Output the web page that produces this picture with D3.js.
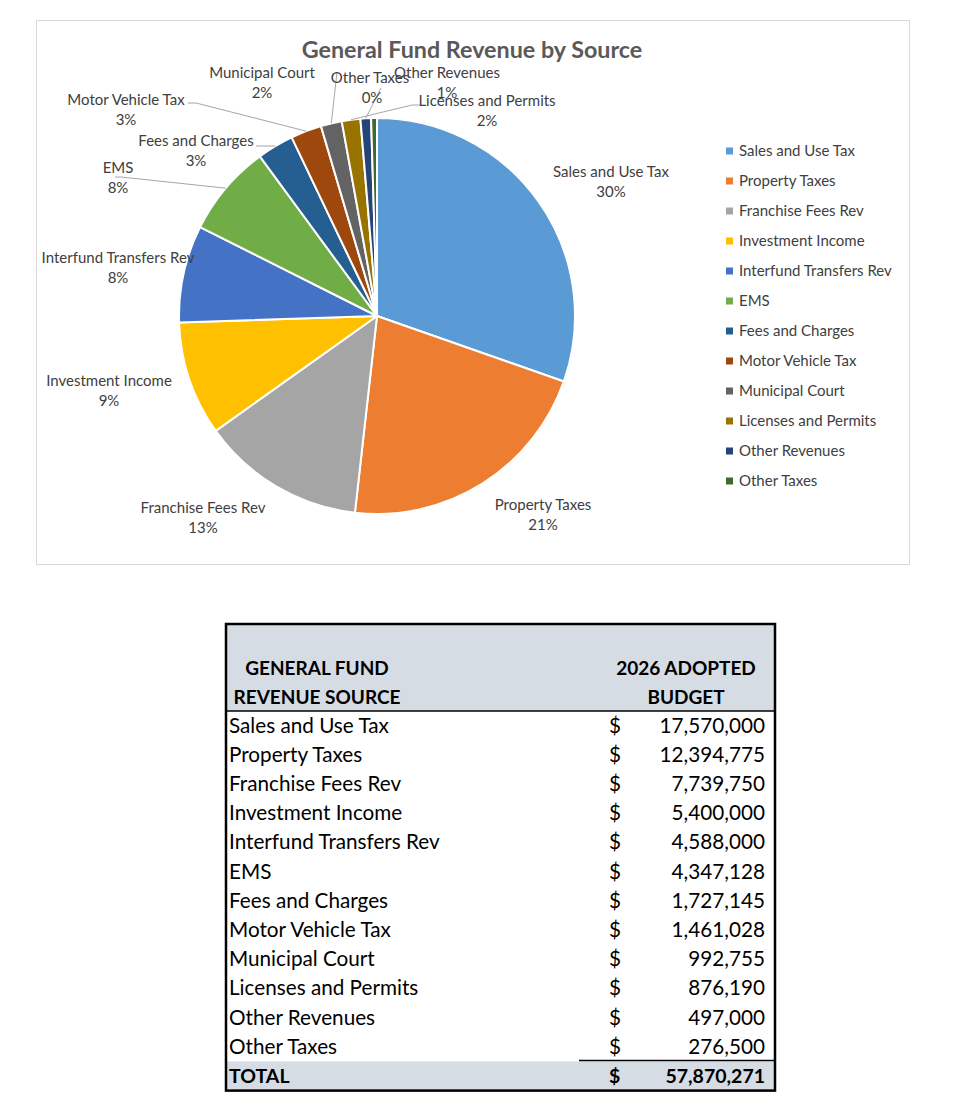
<!DOCTYPE html>
<html>
<head>
<meta charset="utf-8">
<script src="https://cdn.jsdelivr.net/npm/d3@7"></script>
<style>
  html, body { margin: 0; padding: 0; background: #ffffff; }
  svg { display: block; }
</style>
</head>
<body>
<svg id="chart" width="960" height="1116"></svg>
<script>
// ---------- DATA ----------
const categories = [
  "Sales and Use Tax", "Property Taxes", "Franchise Fees Rev", "Investment Income",
  "Interfund Transfers Rev", "EMS", "Fees and Charges", "Motor Vehicle Tax",
  "Municipal Court", "Licenses and Permits", "Other Revenues", "Other Taxes"
];
const budget2026 = [
  17570000, 12394775, 7739750, 5400000, 4588000, 4347128,
  1727145, 1461028, 992755, 876190, 497000, 276500
];
const totalLabel = "TOTAL";
const chartTitle = "General Fund Revenue by Source";
const tableHeaderLeft = ["GENERAL FUND", "REVENUE SOURCE"];
const tableHeaderRight = ["2026 ADOPTED", "BUDGET"];

// ---------- STYLE / LAYOUT ----------
const colors = ["#5B9BD5", "#ED7D31", "#A5A5A5", "#FFC000", "#4472C4", "#70AD47",
                "#255E91", "#9E480E", "#636363", "#997300", "#264478", "#43682B"];
// label anchor (centre of label block, first line y) per category
const labelLayout = [
  {x: 611, y: 172}, {x: 543, y: 505}, {x: 203, y: 508}, {x: 109, y: 381},
  {x: 118, y: 258}, {x: 118, y: 168}, {x: 196, y: 141}, {x: 126, y: 100},
  {x: 262, y: 73},  {x: 487, y: 101}, {x: 447, y: 73},  {x: 370, y: 78}
];
// leader line start points (null = none); elbow optional
const leaderLayout = [
  null, null, null, null, null,
  {sx: 115, sy: 177, ex: 121, ey: 177},
  {sx: 256, sy: 146, ex: 262, ey: 146},
  {sx: 188, sy: 103, ex: 196, ey: 103},
  {sx: 337, sy: 72, ex: 337, ey: 72},
  {sx: 420, sy: 105, ex: 412, ey: 105},
  {sx: 381, sy: 88, ex: 381, ey: 88},
  null
];

const FONT = "Lato, 'Open Sans', 'DejaVu Sans', sans-serif";
const svg = d3.select("#chart");

// chart frame
svg.append("rect").attr("x", 36.5).attr("y", 20.5).attr("width", 873).attr("height", 544)
  .attr("fill", "#fff").attr("stroke", "#d9d9d9").attr("stroke-width", 1);

// title
svg.append("text").attr("x", 472).attr("y", 58).attr("text-anchor", "middle")
  .attr("font-family", FONT).attr("font-weight", "bold").attr("font-size", 23.3)
  .attr("fill", "#595959").text(chartTitle);

// ---------- PIE ----------
const cx = 377, cy = 316, R = 198;
const total = d3.sum(budget2026);
const data = categories.map((c, i) => ({name: c, value: budget2026[i], i}));
const pie = d3.pie().value(d => d.value).sort(null);
const arcs = pie(data);
const arc = d3.arc().innerRadius(0).outerRadius(R);
const color = d3.scaleOrdinal().domain(categories).range(colors);

const g = svg.append("g").attr("transform", `translate(${cx},${cy})`);
g.selectAll("path").data(arcs).join("path")
  .attr("d", arc).attr("fill", d => color(d.data.name))
  .attr("stroke", "#fff").attr("stroke-width", 2).attr("stroke-linejoin", "round");

// leader lines
arcs.forEach((a, i) => {
  const L = leaderLayout[i];
  if (!L) return;
  const mid = (a.startAngle + a.endAngle) / 2;
  const px = cx + R * Math.sin(mid), py = cy - R * Math.cos(mid);
  svg.append("polyline")
    .attr("points", `${L.sx},${L.sy} ${L.ex},${L.ey} ${px},${py}`)
    .attr("fill", "none").attr("stroke", "#a6a6a6").attr("stroke-width", 1);
});

// data labels
const pct = d3.format(".0%");
arcs.forEach((a, i) => {
  const p = labelLayout[i];
  const t = svg.append("text").attr("text-anchor", "middle")
    .attr("font-family", FONT).attr("font-size", 15).attr("fill", "#404040");
  t.append("tspan").attr("x", p.x).attr("y", p.y + 5).text(a.data.name);
  t.append("tspan").attr("x", i === 11 ? p.x + 2 : p.x).attr("y", p.y + 25)
    .text(pct(a.data.value / total));
});

// legend
const lg = svg.append("g").attr("transform", "translate(726,151)");
categories.forEach((c, i) => {
  const row = lg.append("g").attr("transform", `translate(0,${i * 30})`);
  row.append("rect").attr("x", 0).attr("y", -3.5).attr("width", 7).attr("height", 7)
    .attr("fill", color(c));
  row.append("text").attr("x", 13).attr("y", 5).attr("font-family", FONT)
    .attr("font-size", 15).attr("fill", "#404040").text(c);
});

// ---------- TABLE ----------
const tx0 = 226, tx1 = 775, ty0 = 624, headerBottom = 711, rowH = 29.2;
const nRows = categories.length;
const tFont = 20.7;
const hFont = 19;
const tb = svg.append("g");

// header fill
tb.append("rect").attr("x", tx0).attr("y", ty0).attr("width", tx1 - tx0)
  .attr("height", headerBottom - ty0).attr("fill", "#d6dce4");
// total fill
const totalTop = headerBottom + rowH * nRows;
const tableBottom = totalTop + rowH;
tb.append("rect").attr("x", tx0).attr("y", totalTop).attr("width", tx1 - tx0)
  .attr("height", rowH).attr("fill", "#d6dce4");

// header text
tableHeaderLeft.forEach((s, k) => {
  tb.append("text").attr("x", 317).attr("y", 675 + k * 29)
    .attr("text-anchor", "middle").attr("font-family", FONT).attr("font-weight", "bold")
    .attr("font-size", hFont).attr("fill", "#000").text(s);
});
tableHeaderRight.forEach((s, k) => {
  tb.append("text").attr("x", 686).attr("y", 675 + k * 29)
    .attr("text-anchor", "middle").attr("font-family", FONT).attr("font-weight", "bold")
    .attr("font-size", hFont).attr("fill", "#000").text(s);
});

const fmt = d3.format(",");
const yRow = d3.scaleBand().domain(d3.range(nRows + 1))
  .range([headerBottom, tableBottom]).padding(0);

categories.forEach((c, i) => {
  const y = yRow(i) + yRow.bandwidth() / 2 + 7;
  tb.append("text").attr("x", 229).attr("y", y).attr("font-family", FONT)
    .attr("font-size", tFont).attr("fill", "#000").text(c);
  tb.append("text").attr("x", 609).attr("y", y).attr("font-family", FONT)
    .attr("font-size", tFont).attr("fill", "#000").text("$");
  tb.append("text").attr("x", 765).attr("y", y).attr("text-anchor", "end")
    .attr("font-family", FONT).attr("font-size", tFont).attr("fill", "#000")
    .text(fmt(budget2026[i]));
});
{
  const y = yRow(nRows) + yRow.bandwidth() / 2 + 7;
  tb.append("text").attr("x", 229).attr("y", y).attr("font-family", FONT)
    .attr("font-weight", "bold").attr("font-size", hFont + 0.5).text(totalLabel);
  tb.append("text").attr("x", 609).attr("y", y).attr("font-family", FONT)
    .attr("font-weight", "bold").attr("font-size", hFont + 0.5).text("$");
  tb.append("text").attr("x", 765).attr("y", y).attr("text-anchor", "end")
    .attr("font-family", FONT).attr("font-weight", "bold").attr("font-size", hFont + 0.5)
    .text(fmt(total));
}

// lines
tb.append("line").attr("x1", tx0).attr("x2", tx1).attr("y1", headerBottom).attr("y2", headerBottom)
  .attr("stroke", "#000").attr("stroke-width", 1.5);
tb.append("line").attr("x1", 579).attr("x2", tx1).attr("y1", totalTop - 1).attr("y2", totalTop - 1)
  .attr("stroke", "#000").attr("stroke-width", 1.5);
tb.append("rect").attr("x", tx0).attr("y", ty0).attr("width", tx1 - tx0)
  .attr("height", tableBottom - ty0).attr("fill", "none")
  .attr("stroke", "#000").attr("stroke-width", 2.5);
</script>
</body>
</html>
